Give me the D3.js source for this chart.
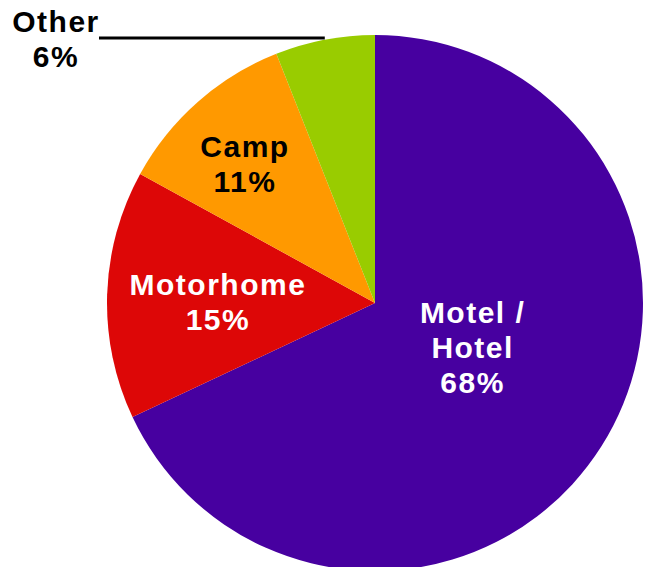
<!DOCTYPE html>
<html>
<head>
<meta charset="utf-8">
<script src="https://cdn.jsdelivr.net/npm/d3@7"></script>
<style>
  body { margin: 0; background: #fff; }
  text { font-family: "Liberation Sans", Arial, sans-serif; font-weight: bold; }
</style>
</head>
<body>
<div id="chart"></div>
<script>
// slice data, clockwise from 12 o'clock
const categories = ["Motel /\nHotel", "Motorhome", "Camp", "Other"];
const shares = [68, 15, 11, 6];
const colours = ["#4700a0", "#dd0707", "#ff9900", "#99cc00"];
const textColours = ["#ffffff", "#ffffff", "#000000", "#000000"];

const width = 652, height = 567;
const cx = 375, cy = 303, radius = 268;
// label placement along each slice: fraction of radius, and a small turn (degrees) off the bisector
const labelDist = [0.40, 0.586, 0.71, null];
const labelTurn = [-8, -1.4, -1.7, 0];

const svg = d3.select("#chart").append("svg")
    .attr("width", width)
    .attr("height", height);

const g = svg.append("g").attr("transform", "translate(" + cx + "," + cy + ")");

const pie = d3.pie().sort(null).value(d => d);
const arcs = pie(shares);
const arc = d3.arc().innerRadius(0).outerRadius(radius);

g.selectAll("path")
    .data(arcs)
    .enter()
    .append("path")
    .attr("d", arc)
    .attr("fill", (d, i) => colours[i]);

const fontSize = 30, lineH = 35;

arcs.forEach((d, i) => {
    if (labelDist[i] == null) return;
    const r = radius * labelDist[i];
    const a = (d.startAngle + d.endAngle) / 2 + labelTurn[i] * Math.PI / 180;
    const x = Math.sin(a) * r, y = -Math.cos(a) * r;
    const lines = categories[i].split("\n").concat([shares[i] + "%"]);
    const t = g.append("text")
        .attr("text-anchor", "middle")
        .attr("fill", textColours[i])
        .style("font-size", fontSize + "px")
        .style("letter-spacing", "1.5px");
    lines.forEach((ln, k) => {
        t.append("tspan")
            .attr("x", x)
            .attr("y", y + (k - (lines.length - 1) / 2) * lineH + fontSize * 0.36)
            .text(ln);
    });
});

// outside label for the small slice, with a leader line
const other = arcs[3];
const oa = (other.startAngle + other.endAngle) / 2;
const lineEndX = cx + Math.sin(oa) * radius;
svg.append("line")
    .attr("x1", 99).attr("x2", lineEndX)
    .attr("y1", 38).attr("y2", 38)
    .attr("stroke", "#000")
    .attr("stroke-width", 3);

const ot = svg.append("text")
    .attr("text-anchor", "middle")
    .attr("fill", textColours[3])
    .style("font-size", fontSize + "px")
    .style("letter-spacing", "1.5px");
ot.append("tspan").attr("x", 56).attr("y", 32).text(categories[3]);
ot.append("tspan").attr("x", 56).attr("y", 67).text(shares[3] + "%");
</script>
</body>
</html>
